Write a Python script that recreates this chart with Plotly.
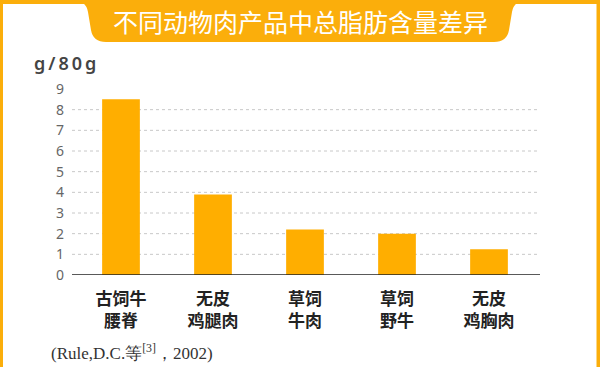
import plotly.graph_objects as go

categories = ["古饲牛<br>腰脊", "无皮<br>鸡腿肉", "草饲<br>牛肉", "草饲<br>野牛", "无皮<br>鸡胸肉"]
fat_values = [8.5, 3.9, 2.2, 2.0, 1.25]
y_ticks = [0, 1, 2, 3, 4, 5, 6, 7, 8, 9]
grid_values = [1, 2, 3, 4, 5, 6, 7, 8]

W, H = 600, 367
L, R, T, B = 75, 65, 89, 92
PW, PH = W - L - R, H - T - B

def px(x):
    return (x - L) / PW

def py(y):
    return (H - B - y) / PH

ORANGE = "#FBAE0B"
BAR = "#FFAE00"

fig = go.Figure()
fig.add_trace(go.Bar(x=categories, y=fat_values, marker=dict(color=BAR, line=dict(width=0)),
                     hoverinfo="skip"))

shapes = []
# white card inside the orange frame (paper background is orange)
shapes.append(dict(type="rect", xref="paper", yref="paper", x0=px(3), x1=px(596.5), y0=py(H + 5), y1=py(4),
                   fillcolor="white", line=dict(width=0), layer="below"))
# gridlines
for g in grid_values:
    shapes.append(dict(type="line", xref="paper", yref="y", x0=px(72), x1=px(540), y0=g, y1=g,
                       line=dict(color="#C8C8C8", width=1, dash="dot"), layer="below"))
# zero line
shapes.append(dict(type="line", xref="paper", yref="y", x0=px(72), x1=px(540), y0=0, y1=0,
                   line=dict(color="#222222", width=1.5), layer="above"))
# title tab
pts = [
    ("M", (72, 0)),
    ("Q", (86, 0), (88, 12)),
    ("L", (91, 30)),
    ("Q", (93, 42), (106, 42)),
    ("L", (494, 42)),
    ("Q", (507, 42), (509, 30)),
    ("L", (512, 12)),
    ("Q", (514, 0), (528, 0)),
]
path = ""
for item in pts:
    cmd = item[0]
    coords = " ".join(f"{px(a):.5f},{py(b):.5f}" for a, b in item[1:])
    path += f"{cmd} {coords} "
path += "Z"
shapes.append(dict(type="path", xref="paper", yref="paper", path=path,
                   fillcolor=ORANGE, line=dict(width=0)))

annotations = [
    dict(text="不同动物肉产品中总脂肪含量差异", xref="paper", yref="paper", x=px(300), y=py(21),
         xanchor="center", yanchor="middle", showarrow=False,
         font=dict(family="Noto Sans CJK SC", size=25, color="white")),
    dict(text="g\u2006/\u20068\u20060\u2006g", xref="paper", yref="paper", x=px(32), y=py(63),
         xanchor="left", yanchor="middle", showarrow=False,
         font=dict(family="Noto Sans, Open Sans", size=18, color="#444444", weight=600)),
    dict(text="(Rule,D.C.等<sup>[3]</sup>，2002)", xref="paper", yref="paper", x=px(49), y=py(352),
         xanchor="left", yanchor="middle", showarrow=False,
         font=dict(family="Liberation Serif, Times New Roman, serif", size=17, color="#333333")),
]

fig.update_layout(
    width=W, height=H,
    margin=dict(l=L, r=R, t=T, b=B),
    paper_bgcolor=ORANGE, plot_bgcolor="rgba(0,0,0,0)",
    bargap=0.59,
    showlegend=False,
    shapes=shapes,
    annotations=annotations,
    xaxis=dict(showgrid=False, showline=False, zeroline=False, ticks="",
               tickfont=dict(family="Noto Sans CJK SC", size=17, color="#222222", weight="bold"),
               ticklabelstandoff=12),
    yaxis=dict(range=[0, 9], tickvals=y_ticks, showgrid=False, zeroline=False, showline=False,
               ticks="", tickfont=dict(family="Noto Sans, Open Sans", size=14, color="#666666"),
               ticklabelstandoff=10),
)

fig.write_html("out.html", config={"displayModeBar": False},
               post_script="document.body.style.margin='0';document.body.style.overflow='hidden';"
                           "document.body.style.background='" + ORANGE + "';")
